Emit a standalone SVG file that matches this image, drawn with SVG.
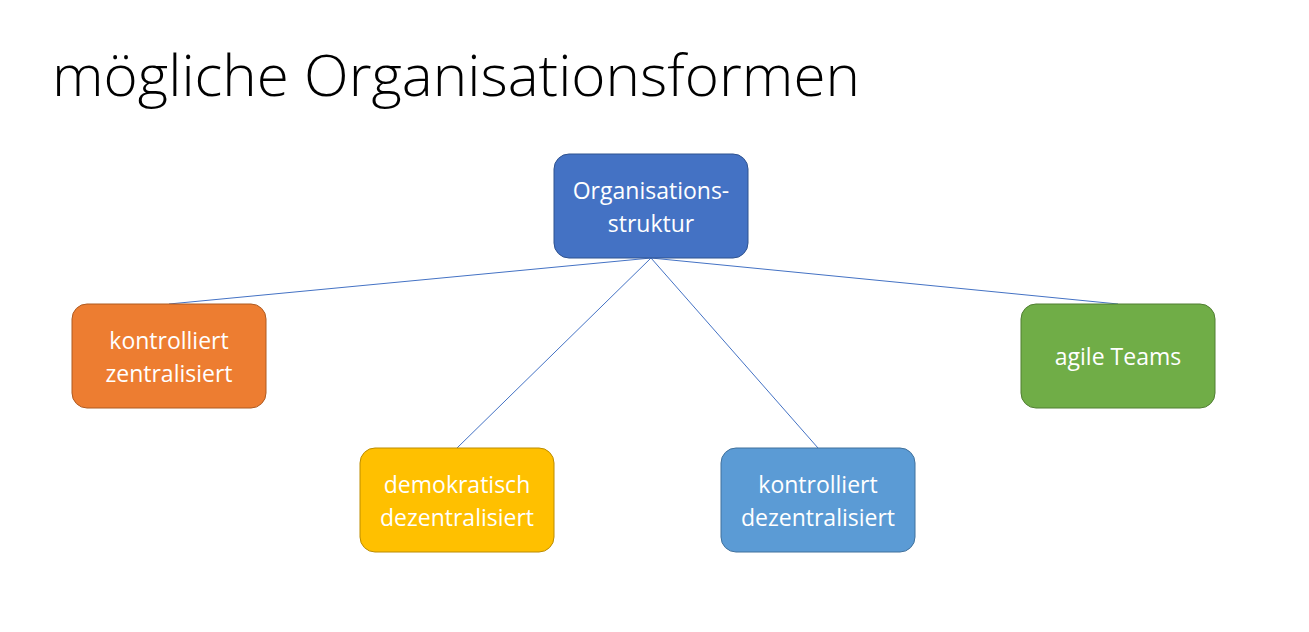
<svg xmlns="http://www.w3.org/2000/svg" width="1309" height="632" viewBox="0 0 1309 632">
<style>
.box{stroke-width:1}
.lbl{font-family:"Open Sans","Liberation Sans",sans-serif;font-size:23px;fill:#fff;text-anchor:middle}
.conn line{stroke:#4472C4;stroke-width:1}
</style>
<rect width="1309" height="632" fill="#fff"/>
<text x="52" y="96" font-family="Open Sans, Liberation Sans, sans-serif" font-size="57" font-weight="300" fill="#000" textLength="808" lengthAdjust="spacingAndGlyphs">mögliche Organisationsformen</text>
<g id="connectors" class="conn">
<line x1="651" y1="258" x2="169" y2="304"/>
<line x1="651" y1="258" x2="457" y2="448"/>
<line x1="651" y1="258" x2="818" y2="448"/>
<line x1="651" y1="258" x2="1118" y2="304"/>
</g>
<g id="n-root">
<rect class="box" x="554" y="154" width="194" height="104" rx="15" fill="#4472C4" stroke="#2F528F"/>
<text class="lbl" x="651" y="199">Organisations-</text>
<text class="lbl" x="651" y="232">struktur</text>
</g>
<g id="n-kz">
<rect class="box" x="72" y="304" width="194" height="104" rx="15" fill="#ED7D31" stroke="#AE5A21"/>
<text class="lbl" x="169" y="349">kontrolliert</text>
<text class="lbl" x="169" y="382">zentralisiert</text>
</g>
<g id="n-dd">
<rect class="box" x="360" y="448" width="194" height="104" rx="15" fill="#FFC000" stroke="#BC8C00"/>
<text class="lbl" x="457" y="493">demokratisch</text>
<text class="lbl" x="457" y="526">dezentralisiert</text>
</g>
<g id="n-kd">
<rect class="box" x="721" y="448" width="194" height="104" rx="15" fill="#5B9BD5" stroke="#41719C"/>
<text class="lbl" x="818" y="493">kontrolliert</text>
<text class="lbl" x="818" y="526">dezentralisiert</text>
</g>
<g id="n-agile">
<rect class="box" x="1021" y="304" width="194" height="104" rx="15" fill="#70AD47" stroke="#507E32"/>
<text class="lbl" x="1118" y="365">agile Teams</text>
</g>
</svg>
